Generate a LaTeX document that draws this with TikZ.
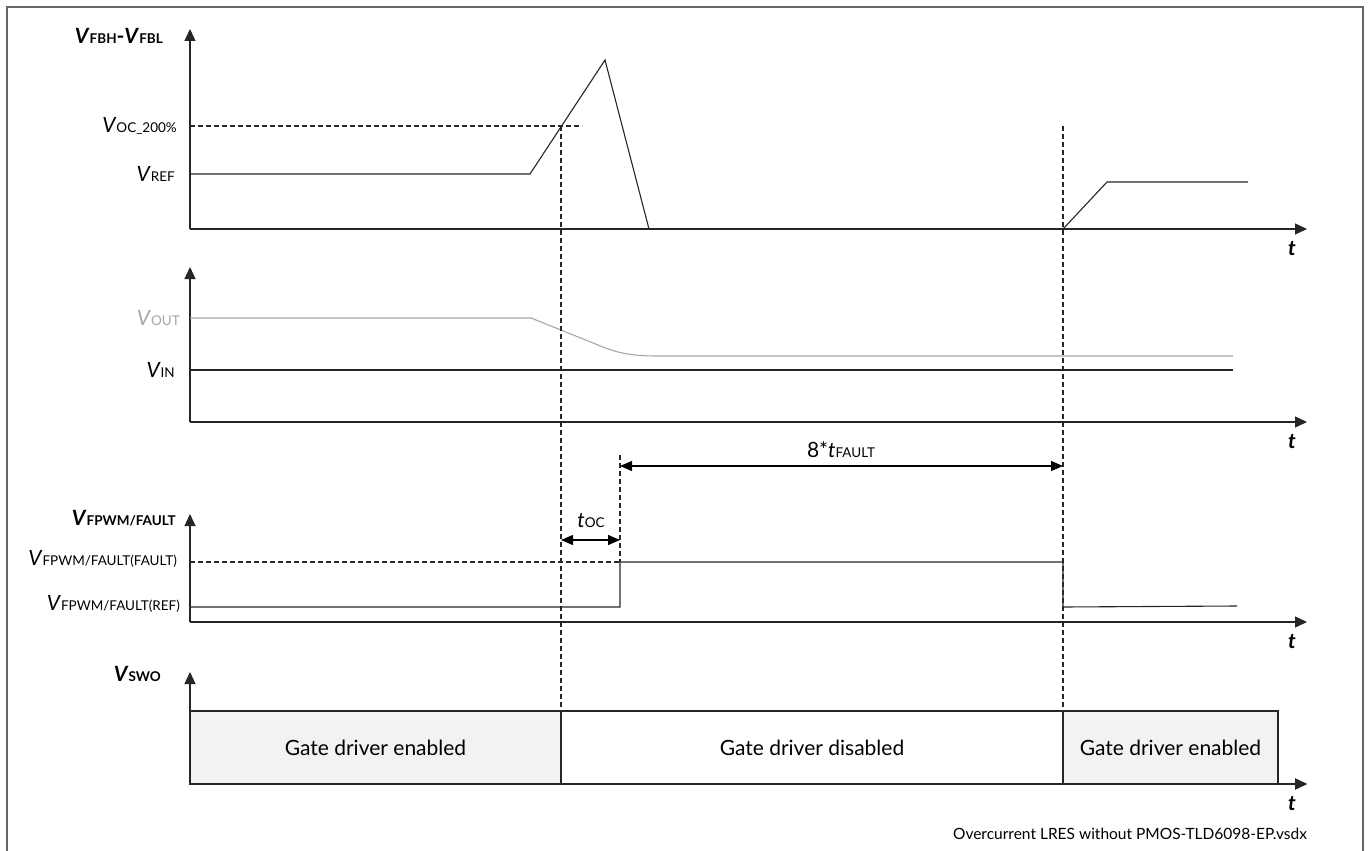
\documentclass[tikz,border=0pt]{standalone}
\usepackage{fontspec}
\setmainfont{Lato}
\usetikzlibrary{arrows.meta,positioning}

\definecolor{framegray}{HTML}{666666}
\definecolor{outgray}{HTML}{A6A6A6}
\definecolor{boxgray}{HTML}{F2F2F2}
\newcommand{\vsig}[2]{\textit{#1}{\fontsize{13.5}{13.5}\selectfont #2}}

\begin{document}
\begin{tikzpicture}[x=1pt,y=-1pt,
                    axis/.style={line width=1.3pt,draw=black!85,-{Triangle[length=12pt,width=11pt]}},
                    sig/.style={line width=1.1pt,draw=black!85},
                    ref/.style={line width=1.1pt,draw=black!85,dash pattern=on 5pt off 3pt},
                    dim/.style={line width=1.1pt,draw=black,{Triangle[length=12pt,width=10pt]}-{Triangle[length=12pt,width=10pt]}},
                    ylbl/.style={anchor=east,inner sep=0pt,font=\fontsize{21}{21}\selectfont},
                    tlbl/.style={inner sep=0pt,font=\fontsize{21}{21}\selectfont\bfseries\itshape},
                    gbox/.style={draw=black!85,line width=1.2pt,minimum height=73pt,inner sep=0pt,font=\fontsize{21}{21}\selectfont}
                ]
                \useasboundingbox (0,0) rectangle (1371,851);
                % frame
                \draw[framegray,line width=1.2pt] (7,870) -- (7,7) -- (1363,7) -- (1363,870);

                % axes
                \foreach \top/\base/\nm in {29/229/A,267/422/B,514/622/C,672/784/D}
                    {
                    \coordinate (o\nm) at (190,\base);
                    \draw[axis] (o\nm) -- (190,\top);
                    \draw[axis] (o\nm) -- (1307,\base);
                    \node[tlbl] (t\nm) at (1292,\base+20) {t};
                    }

                % event times
                \coordinate (ocA) at (561,126);
                \coordinate (ocB) at (561,711);
                \coordinate (rsA) at (1063,126);
                \coordinate (rsB) at (1063,711);
                \coordinate (fltA) at (620,455);
                \coordinate (fltB) at (620,562);

                % V_FBH - V_FBL
                \node[ylbl,font=\fontsize{21}{21}\selectfont\bfseries] (lblFB) at (163,36) {\vsig{V}{FBH}-\vsig{V}{FBL}};
                \node[ylbl] (lblOC) at (177,126) {\vsig{V}{OC\_200\%}};
                \node[ylbl] (lblREF) at (175,174) {\vsig{V}{REF}};
                \draw[ref] (190,126) -- (582,126);
                \draw[sig] (190,174) -- (530,174) -- (605,60) -- (649,229) -- (1063,229) -- (1107,182) -- (1248,182);

                % V_OUT, V_IN
                \node[ylbl,text=outgray] (lblOUT) at (180,318) {\vsig{V}{OUT}};
                \node[ylbl] (lblIN) at (175,370) {\vsig{V}{IN}};
                \draw[outgray,line width=1.1pt] (190,318) -- (531,318) -- (603,347) .. controls (618,353) and (632,356) .. (657,356) -- (1233,356);
                \draw[sig] (190,370) -- (1233,370);

                % V_FPWM/FAULT
                \node[ylbl,font=\fontsize{21}{21}\selectfont\bfseries] (lblFPWM) at (176,518) {\vsig{V}{FPWM/FAULT}};
                \node[ylbl] (lblFLT) at (177,559) {\vsig{V}{FPWM/FAULT(FAULT)}};
                \node[ylbl] (lblFREF) at (180,604) {\vsig{V}{FPWM/FAULT(REF)}};
                \draw[ref] (190,562) -- (fltB);
                \draw[sig] (190,607) -- (620,607) -- (fltB) -- (1063,562) -- (1063,607) -- (1237,606);

                % timing marks
                \draw[ref] (ocA) -- (ocB);
                \draw[ref] (rsA) -- (rsB);
                \draw[ref] (fltA) -- (fltB);
                \coordinate (tocL) at (561,540);
                \coordinate (tocR) at (620,540);
                \coordinate (tfL) at (620,466);
                \coordinate (tfR) at (1063,466);
                \draw[dim] (tocL) -- (tocR);
                \draw[dim] (tfL) -- (tfR);
                \node[inner sep=0pt,font=\fontsize{21}{21}\selectfont] (lblTOC) at (591,521) {\vsig{t}{OC}};
                \node[inner sep=0pt,font=\fontsize{21}{21}\selectfont] (lblTF) at (841,450) {8*\vsig{t}{FAULT}};

                % V_SWO
                \node[ylbl,font=\fontsize{21}{21}\selectfont\bfseries] (lblSWO) at (161,674) {\vsig{V}{SWO}};
                \node[gbox,fill=boxgray,minimum width=371pt] (en1) at (375.5,747.5) {Gate driver enabled};
                \node[gbox,fill=white,minimum width=502pt] (dis) at (812,747.5) {Gate driver disabled};
                \node[gbox,fill=boxgray,minimum width=215pt] (en2) at (1170.5,747.5) {Gate driver enabled};
                \draw[axis] (oD) -- (1307,784);

                \node[anchor=east,inner sep=0pt,font=\fontsize{15.5}{15.5}\selectfont] (cap) at (1307,834) {Overcurrent LRES without PMOS-TLD6098-EP.vsdx};
\end{tikzpicture}
\end{document}
